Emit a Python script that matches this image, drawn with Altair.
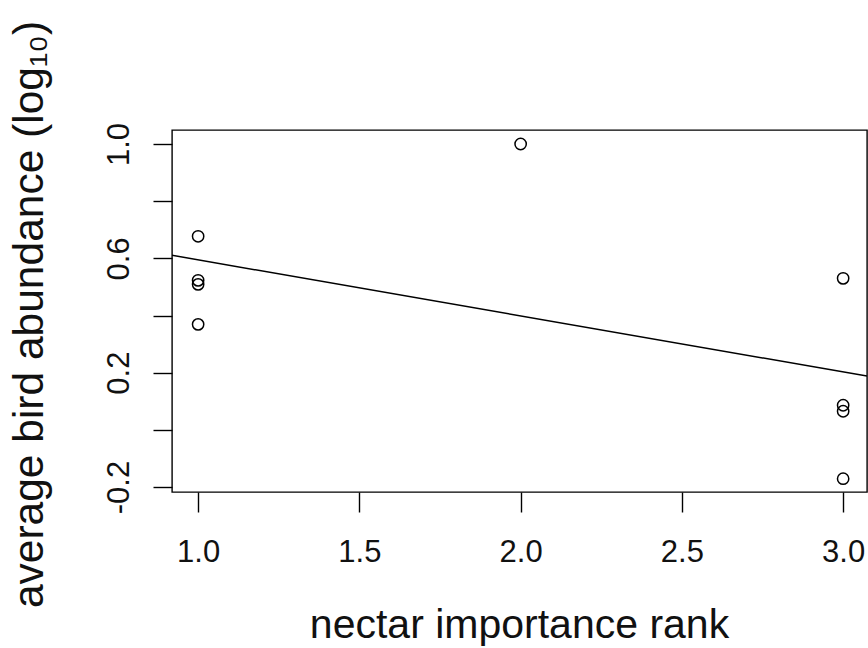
import altair as alt
import pandas as pd

# Data
rank = [1, 1, 1, 1, 2, 3, 3, 3, 3]
abundance = [0.677, 0.523, 0.509, 0.369, 1.0, 0.530, 0.086, 0.065, -0.171]

x_ticks = [1.0, 1.5, 2.0, 2.5, 3.0]
x_labels = ["1.0", "1.5", "2.0", "2.5", "3.0"]
y_ticks = [-0.2, 0.0, 0.2, 0.4, 0.6, 0.8, 1.0]
y_labels = ["-0.2", "", "0.2", "", "0.6", "", "1.0"]

x_domain = [0.919, 3.074]
y_domain = [-0.2175, 1.049]

x_title = "nectar importance rank"
y_title = "average bird abundance (log\u2081\u2080)"

FONT = "Liberation Sans"

df = pd.DataFrame({"rank": rank, "abundance": abundance})


def label_expr(values, labels):
    expr = "''"
    for v, lab in reversed(list(zip(values, labels))):
        expr = f"abs(datum.value - ({v})) < 1e-6 ? '{lab}' : ({expr})"
    return expr


x_axis = alt.Axis(
    values=x_ticks,
    labelExpr=label_expr(x_ticks, x_labels),
    grid=False,
    domain=False,
    tickSize=20,
    tickColor="black",
    tickWidth=1.4,
    labelFont=FONT,
    labelFontSize=31,
    labelColor="#111111",
    labelBaseline="alphabetic",
    labelPadding=49,
    labelFlush=False,
    labelOverlap=False,
    title=x_title,
    titleFont=FONT,
    titleFontSize=41,
    titleFontWeight="normal",
    titleColor="#111111",
    titleAlign="center",
    titleBaseline="alphabetic",
    titleX=347,
    titleY=145,
)

y_axis = alt.Axis(
    values=y_ticks,
    labelExpr=label_expr(y_ticks, y_labels),
    grid=False,
    domain=False,
    tickSize=19,
    tickColor="black",
    tickWidth=1.4,
    labelFont=FONT,
    labelFontSize=31,
    labelColor="#111111",
    labelAngle=270,
    labelAlign="center",
    labelBaseline="alphabetic",
    labelPadding=25,
    labelFlush=False,
    labelOverlap=False,
    title=y_title,
    titleFont=FONT,
    titleFontSize=42.5,
    titleFontWeight="normal",
    titleColor="#111111",
    titleAngle=270,
    titleAlign="center",
    titleBaseline="alphabetic",
    titleX=-130,
    titleY=184,
)

xs = alt.Scale(domain=x_domain, nice=False, zero=False)
ys = alt.Scale(domain=y_domain, nice=False, zero=False)

base = alt.Chart(df)

points = base.mark_point(
    shape="circle", filled=False, color="black", size=128, strokeWidth=1.5,
    opacity=1,
).encode(
    x=alt.X("rank:Q", scale=xs, axis=x_axis),
    y=alt.Y("abundance:Q", scale=ys, axis=y_axis),
)

line = base.transform_regression(
    "rank", "abundance", extent=x_domain
).mark_line(color="black", strokeWidth=1.5, clip=True).encode(
    x=alt.X("rank:Q", scale=xs),
    y=alt.Y("abundance:Q", scale=ys),
)

chart = (
    alt.layer(line, points)
    .properties(
        width=695,
        height=362,
        padding={"left": 172, "top": 130, "right": 1, "bottom": 156},
        autosize=alt.AutoSizeParams(type="none"),
        background="white",
    )
    .configure_view(stroke="black", strokeWidth=1.4)
)

chart.save("out.html", embed_options={"renderer": "svg", "actions": False})
